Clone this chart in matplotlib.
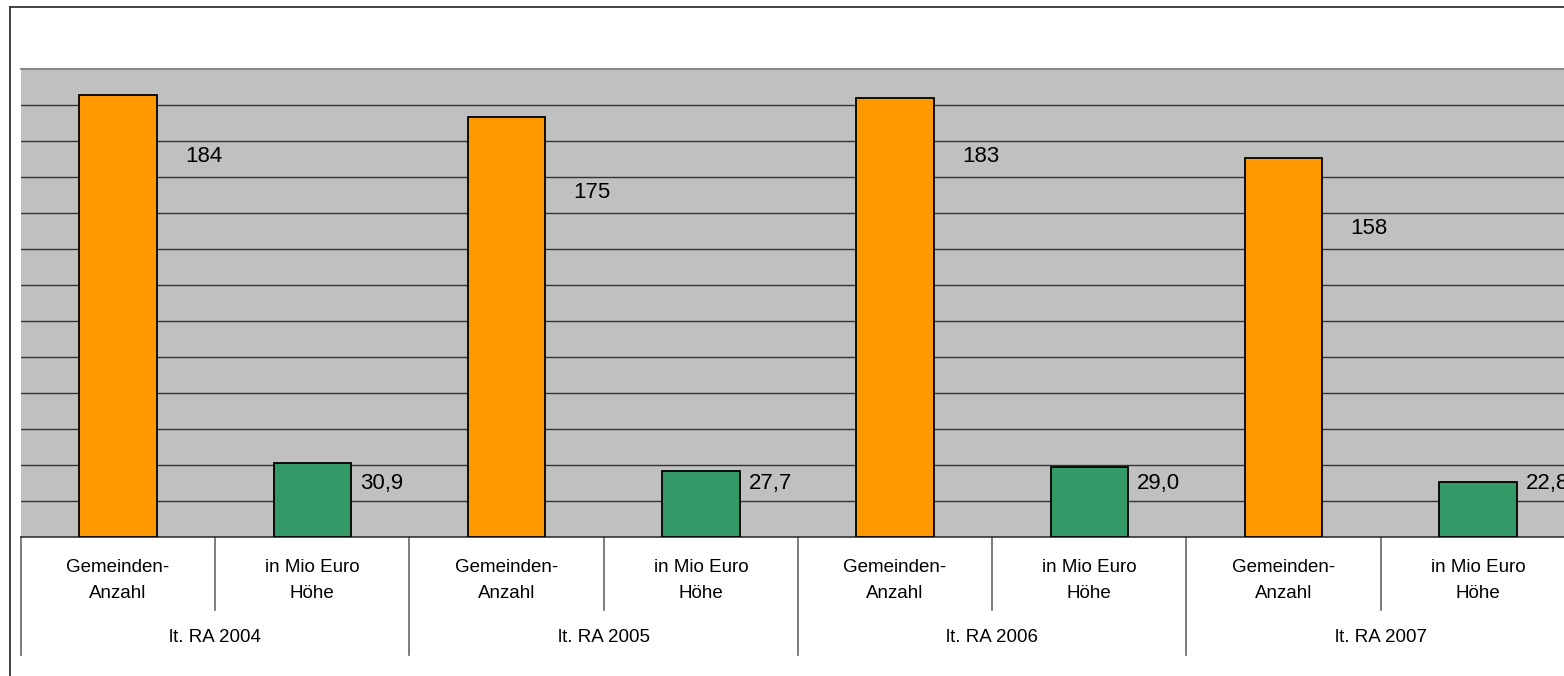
import numpy as np
import matplotlib
matplotlib.use("Agg")
import matplotlib.pyplot as plt
from matplotlib.lines import Line2D

plt.rcParams['font.family'] = ['Liberation Sans', 'DejaVu Sans']

# ---- data ----
groups = ['lt. RA 2004', 'lt. RA 2005', 'lt. RA 2006', 'lt. RA 2007']
subcats = ['Gemeinden-\nAnzahl', 'in Mio Euro\nHöhe']
anzahl = [184, 175, 183, 158]
hoehe = [30.9, 27.7, 29.0, 22.8]
anzahl_labels = ['184', '175', '183', '158']
hoehe_labels = ['30,9', '27,7', '29,0', '22,8']

W, H = 1564, 676
fig = plt.figure(figsize=(W / 100, H / 100), dpi=100)
fig.patch.set_facecolor('white')

# plot area in pixels
left_px, right_px, top_px, bot_px = 21, 1575, 69, 537
ax = fig.add_axes([left_px / W, 1 - bot_px / H, (right_px - left_px) / W, (bot_px - top_px) / H])
ax.set_facecolor('#C0C0C0')

n = len(groups) * len(subcats)
x = np.arange(n)
ymax, step = 195, 15
ax.set_xlim(-0.5, n - 0.5)
ax.set_ylim(0, ymax)

for yv in np.arange(step, ymax, step):
    ax.axhline(yv, color='#333333', lw=1.0, zorder=1)

bw = 0.4
xa = x[0::2]
xh = x[1::2]
ax.bar(xa, anzahl, width=bw, color='#FF9900', edgecolor='black', linewidth=1.3, zorder=3)
ax.bar(xh, hoehe, width=bw, color='#339966', edgecolor='black', linewidth=1.3, zorder=3)

def band_center(v, drop):
    return (np.floor((v - drop) / step) + 0.5) * step

for xi, v, s in zip(xa, anzahl, anzahl_labels):
    ax.annotate(s, (xi + bw / 2, band_center(v, 30)), xytext=(20, 1.5), textcoords='offset points',
                ha='left', va='center', fontsize=16, color='black', annotation_clip=False, zorder=4)
for xi, v, s in zip(xh, hoehe, hoehe_labels):
    ax.annotate(s, (xi + bw / 2, band_center(v, 7)), xytext=(6.5, 0), textcoords='offset points',
                ha='left', va='center', fontsize=16, color='black', annotation_clip=False, zorder=4)

ax.set_xticks([])
ax.set_yticks([])
for side in ['left', 'right']:
    ax.spines[side].set_visible(False)
ax.spines['top'].set_color('#888888')
ax.spines['top'].set_linewidth(1.5)
ax.spines['bottom'].set_color('#333333')
ax.spines['bottom'].set_linewidth(1.2)

ph = bot_px - top_px
tr = ax.get_xaxis_transform()
# sub-category labels
for i in range(n):
    first, second = subcats[i % 2].split('\n')
    ax.text(x[i], -(567 - bot_px) / ph, first, transform=tr,
            ha='center', va='center', fontsize=13.5)
    ax.text(x[i], -(594 - bot_px) / ph, second, transform=tr,
            ha='center', va='center', fontsize=13.5)
# group labels
for g, name in enumerate(groups):
    ax.text(2 * g + 0.5, -(638 - bot_px) / ph, name, transform=tr,
            ha='center', va='center', fontsize=13.5)

# separators
for g in range(len(groups)):
    xs = 2 * g + 0.5
    ax.add_line(Line2D([xs, xs], [0, -(610 - bot_px) / ph], transform=tr, color='#666666',
                       lw=1.2, clip_on=False))
for g in range(len(groups) + 1):
    xs = 2 * g - 0.5
    ax.add_line(Line2D([xs, xs], [0, -(655 - bot_px) / ph], transform=tr, color='#666666',
                       lw=1.2, clip_on=False))

# outer frame (left + top)
fx = 10 / W
fy = 1 - 7 / H
fig.add_artist(Line2D([fx, fx], [0, fy], transform=fig.transFigure, color='#333333', lw=1.3))
fig.add_artist(Line2D([fx, 1], [fy, fy], transform=fig.transFigure, color='#333333', lw=1.3))

fig.savefig('out.png', dpi=100, facecolor='white')
